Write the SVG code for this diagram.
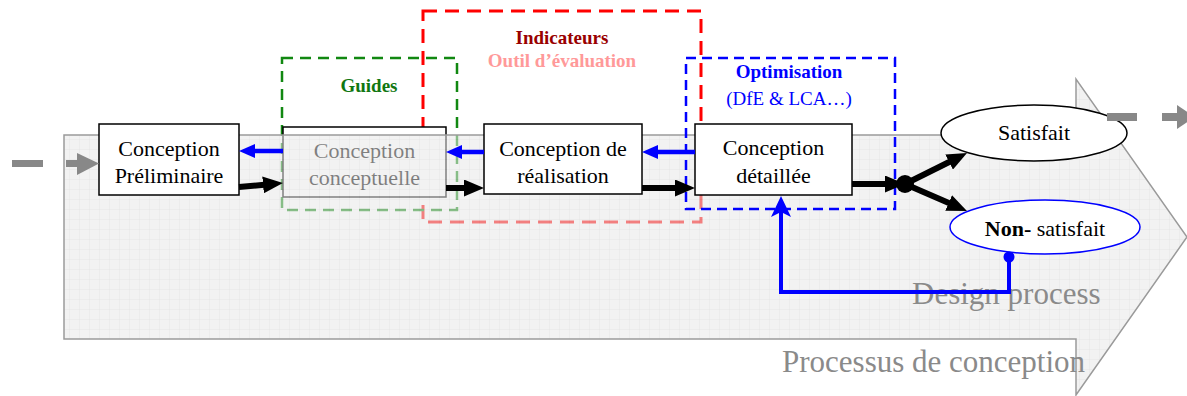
<svg xmlns="http://www.w3.org/2000/svg" width="1187" height="396" viewBox="0 0 1187 396">
<style>
text{font-family:"Liberation Serif","Times New Roman",serif;}
.node{fill:#fff;stroke:#000;stroke-width:1.5}
.nt{font-size:22px;fill:#000;text-anchor:middle}
.lbl{font-size:19px;font-weight:bold;text-anchor:middle}
.big{font-size:31px;fill:#8a8a8a}
.blk{stroke:#000;stroke-width:6;fill:none}
.blu{stroke:#0000ff;stroke-width:4.5;fill:none}
.gr{fill:#888}
</style>
<defs>
<pattern id="grid" width="10" height="10" patternUnits="userSpaceOnUse">
<rect width="10" height="10" fill="#e8e8e8"/>
<path d="M10 0V10M0 10H10" stroke="#d0d0d0" stroke-width="1" fill="none"/>
</pattern>
<marker id="ab" markerUnits="userSpaceOnUse" markerWidth="21" markerHeight="17" refX="4" refY="8.5" orient="auto"><path d="M0,0 L20,8.5 L0,17 Z" fill="#000"/></marker>
<marker id="au" markerUnits="userSpaceOnUse" markerWidth="17" markerHeight="14" refX="4" refY="7" orient="auto"><path d="M0,0 L16,7 L0,14 Z" fill="#0000ff"/></marker>
<marker id="af" markerUnits="userSpaceOnUse" markerWidth="22" markerHeight="20" refX="6" refY="10" orient="auto"><path d="M0,0 L21,10 L0,20 L5,10 Z" fill="#0000ff"/></marker>
</defs>

<g id="zone-indicateurs">
<rect x="423" y="11" width="278" height="211" fill="none" stroke="#ff0000" stroke-width="3" stroke-dasharray="14 8"/>
</g>
<g id="zone-guides">
<rect x="282" y="58" width="175" height="152" fill="none" stroke="#118811" stroke-width="2.5" stroke-dasharray="11 7"/>
</g>
<g id="node-conceptuelle">
<rect class="node" x="283" y="127" width="163" height="70"/>
<text class="nt" x="364.5" y="158" fill="#000">Conception</text>
<text class="nt" x="364.5" y="185">conceptuelle</text>
</g>

<g id="process-arrow">
<polygon points="64,135 1076,135 1076,79 1187,237 1076,395 1076,339 64,339" fill="url(#grid)" fill-opacity="0.55" stroke="#9a9a9a" stroke-width="1.5"/>
<text class="big" x="912" y="304">Design process</text>
<text class="big" x="782" y="372">Processus de conception</text>
</g>

<g id="zone-optimisation">
<rect x="686" y="58" width="209" height="151" fill="none" stroke="#0000ff" stroke-width="2.5" stroke-dasharray="10 6"/>
</g>

<g id="labels">
<text class="lbl" x="562" y="44" fill="#990000">Indicateurs</text>
<text class="lbl" x="562" y="67" fill="#ff9999">Outil d’évaluation</text>
<text class="lbl" x="369" y="92" fill="#117711">Guides</text>
<text class="lbl" x="789" y="78" fill="#0000ff">Optimisation</text>
<text x="789" y="105" font-size="19" text-anchor="middle" fill="#0000ff">(DfE &amp; LCA…)</text>
</g>

<g id="node-preliminaire">
<rect class="node" x="99" y="124" width="140" height="71"/>
<text class="nt" x="169" y="156">Conception</text>
<text class="nt" x="169" y="183">Préliminaire</text>
</g>
<g id="node-realisation">
<rect class="node" x="484" y="124" width="158" height="70"/>
<text class="nt" x="563" y="156">Conception de</text>
<text class="nt" x="563" y="183">réalisation</text>
</g>
<g id="node-detaillee">
<rect class="node" x="695" y="124" width="157" height="71"/>
<text class="nt" x="773.5" y="155">Conception</text>
<text class="nt" x="773.5" y="183">détaillée</text>
</g>
<g id="node-satisfait">
<ellipse cx="1034" cy="133" rx="93" ry="28" fill="#fff" stroke="#000" stroke-width="1.5"/>
<text class="nt" x="1034" y="140">Satisfait</text>
</g>
<g id="node-non-satisfait">
<ellipse cx="1045" cy="227" rx="95" ry="27" fill="#fff" stroke="#0000ff" stroke-width="1.5"/>
<text class="nt" x="1045" y="236"><tspan font-weight="bold">Non-</tspan> satisfait</text>
</g>

<g id="connectors">
<rect class="gr" x="12" y="160" width="31" height="7"/>
<rect class="gr" x="66" y="160" width="12" height="7"/>
<polygon class="gr" points="77,153 99,163.5 77,175"/>
<rect class="gr" x="1107" y="113" width="30" height="8"/>
<rect class="gr" x="1162" y="113" width="16" height="8"/>
<polygon class="gr" points="1177,105 1195,117 1177,129"/>

<line class="blk" x1="239" y1="187" x2="267" y2="184.5" marker-end="url(#ab)"/>
<line class="blk" x1="446" y1="188" x2="468" y2="188" marker-end="url(#ab)"/>
<line class="blk" x1="642" y1="188" x2="679" y2="188" marker-end="url(#ab)"/>
<line class="blk" x1="852" y1="184" x2="889" y2="184" marker-end="url(#ab)"/>
<line class="blk" x1="905" y1="184" x2="952.7" y2="160.2" marker-end="url(#ab)"/>
<line class="blk" x1="905" y1="184" x2="952.3" y2="204.6" marker-end="url(#ab)"/>
<circle cx="905" cy="184" r="9" fill="#000"/>

<line class="blu" x1="283" y1="151" x2="251" y2="151" marker-end="url(#au)"/>
<line class="blu" x1="484" y1="152" x2="458" y2="152" marker-end="url(#au)"/>
<line class="blu" x1="695" y1="152" x2="654" y2="152" marker-end="url(#au)"/>

<path d="M1009,257 V292 H781 V211" fill="none" stroke="#0000ff" stroke-width="4" marker-end="url(#af)"/>
<circle cx="1009" cy="257" r="5.5" fill="#0000ff"/>
</g>
</svg>
